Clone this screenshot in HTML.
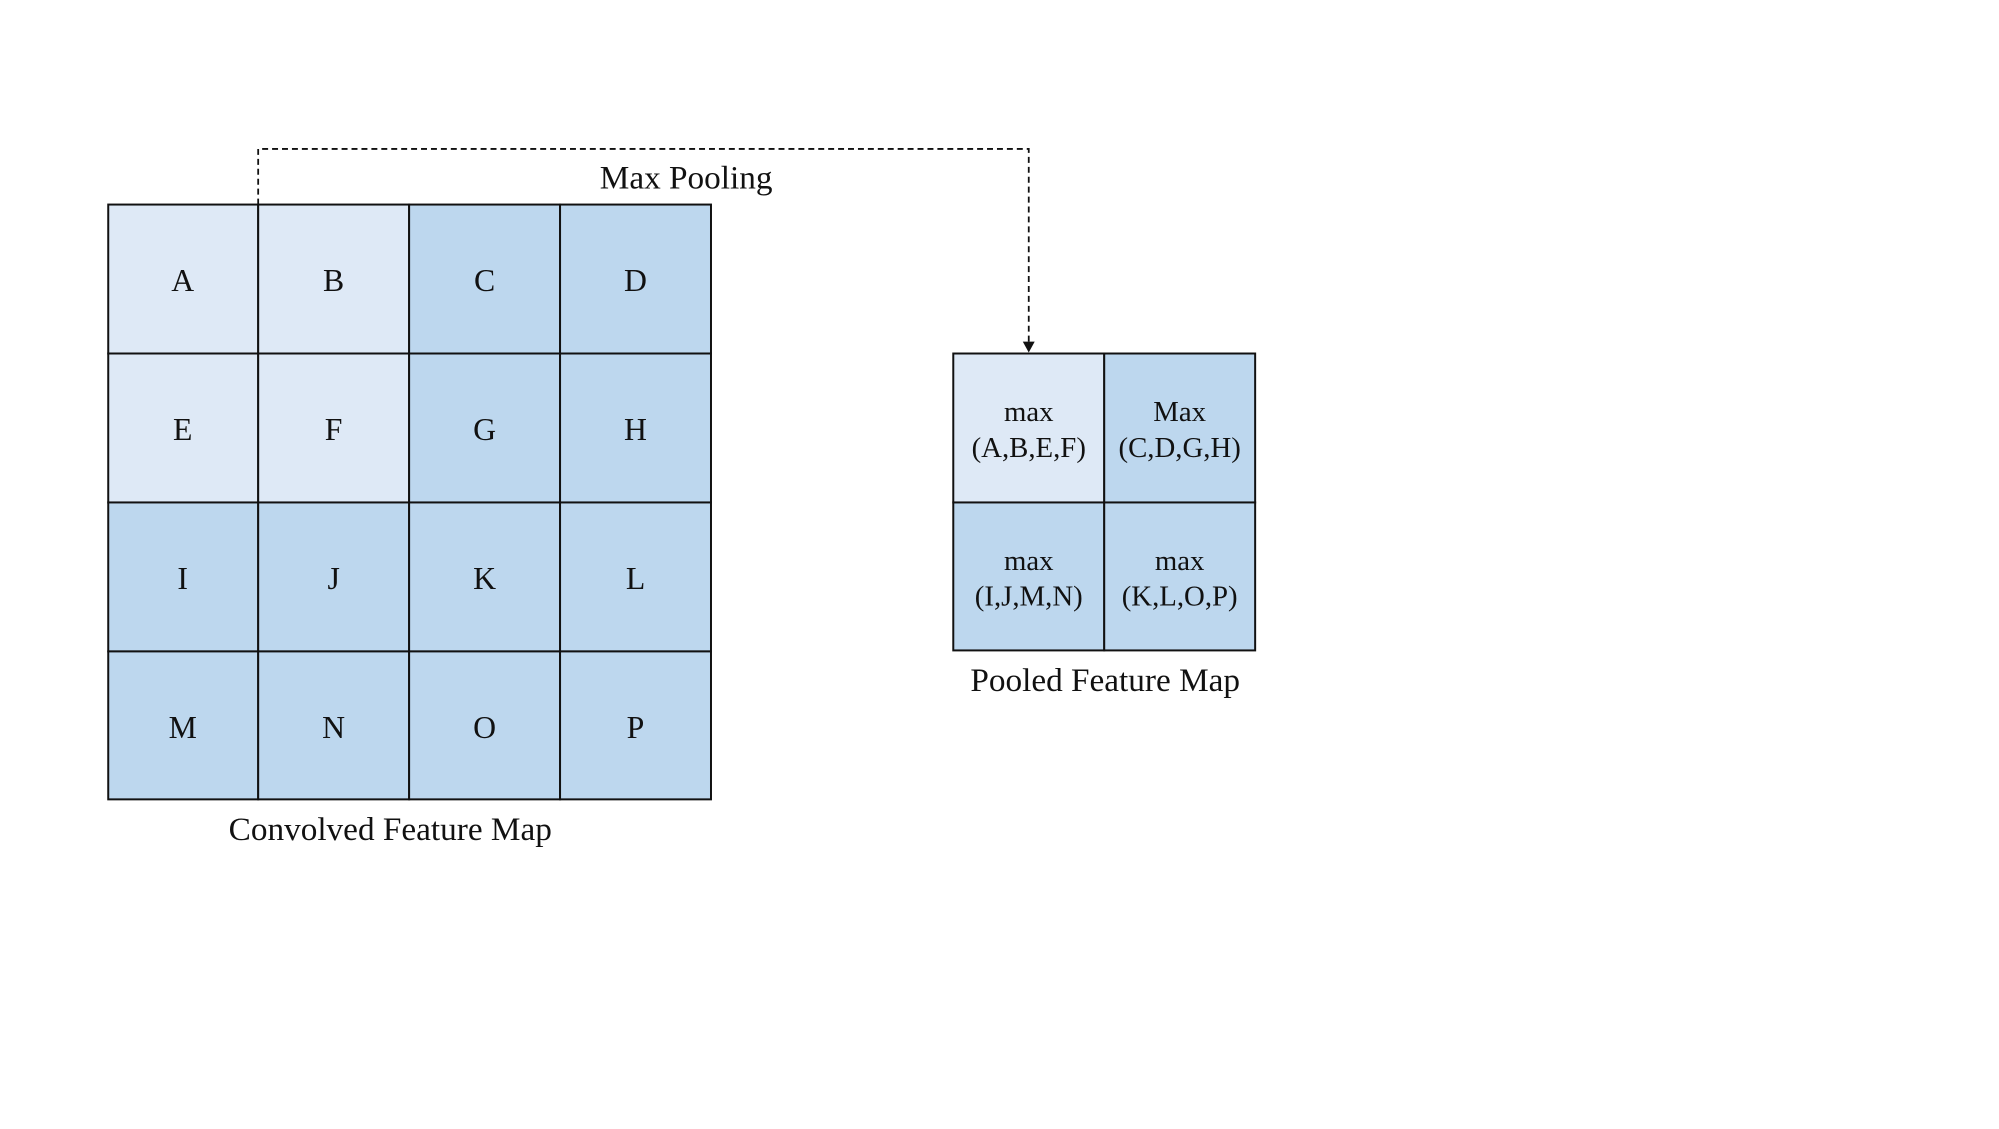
<!DOCTYPE html>
<html><head><meta charset="utf-8"><style>
body{margin:0;background:#fff;}
svg text{font-family:"Liberation Serif",serif;fill:#111;}
</style></head><body>
<svg width="1999" height="1124" xmlns="http://www.w3.org/2000/svg">
<g transform="scale(0.993)">
<g stroke="#111" stroke-width="2">
<rect x="109" y="206" width="151" height="150" fill="#dee9f6"/>
<rect x="260" y="206" width="152" height="150" fill="#dee9f6"/>
<rect x="412" y="206" width="152" height="150" fill="#bdd7ee"/>
<rect x="564" y="206" width="152" height="150" fill="#bdd7ee"/>
<rect x="109" y="356" width="151" height="150" fill="#dee9f6"/>
<rect x="260" y="356" width="152" height="150" fill="#dee9f6"/>
<rect x="412" y="356" width="152" height="150" fill="#bdd7ee"/>
<rect x="564" y="356" width="152" height="150" fill="#bdd7ee"/>
<rect x="109" y="506" width="151" height="150" fill="#bdd7ee"/>
<rect x="260" y="506" width="152" height="150" fill="#bdd7ee"/>
<rect x="412" y="506" width="152" height="150" fill="#bdd7ee"/>
<rect x="564" y="506" width="152" height="150" fill="#bdd7ee"/>
<rect x="109" y="656" width="151" height="149" fill="#bdd7ee"/>
<rect x="260" y="656" width="152" height="149" fill="#bdd7ee"/>
<rect x="412" y="656" width="152" height="149" fill="#bdd7ee"/>
<rect x="564" y="656" width="152" height="149" fill="#bdd7ee"/>
<rect x="960" y="356" width="152" height="150" fill="#dee9f6"/>
<rect x="1112" y="356" width="152" height="150" fill="#bdd7ee"/>
<rect x="960" y="506" width="152" height="149" fill="#bdd7ee"/>
<rect x="1112" y="506" width="152" height="149" fill="#bdd7ee"/>
</g>
<path d="M260 206 V150 H1036 V346" fill="none" stroke="#111" stroke-width="1.8" stroke-dasharray="6,4"/>
<polygon points="1030,344 1042,344 1036,355" fill="#111"/>
<g font-size="32" text-anchor="middle">
<text x="184" y="293">A</text><text x="336" y="293">B</text><text x="488" y="293">C</text><text x="640" y="293">D</text>
<text x="184" y="443">E</text><text x="336" y="443">F</text><text x="488" y="443">G</text><text x="640" y="443">H</text>
<text x="184" y="593">I</text><text x="336" y="593">J</text><text x="488" y="593">K</text><text x="640" y="593">L</text>
<text x="184" y="743">M</text><text x="336" y="743">N</text><text x="488" y="743">O</text><text x="640" y="743">P</text>
</g>
<g font-size="33.5" text-anchor="middle">
<text x="691" y="190">Max Pooling</text>
<text x="393" y="846">Convolved Feature Map</text>
<text x="1113" y="696">Pooled Feature Map</text>
</g>
<g font-size="29" text-anchor="middle">
<text x="1036" y="424">max</text><text x="1036" y="460">(A,B,E,F)</text>
<text x="1188" y="424">Max</text><text x="1188" y="460">(C,D,G,H)</text>
<text x="1036" y="574">max</text><text x="1036" y="610">(I,J,M,N)</text>
<text x="1188" y="574">max</text><text x="1188" y="610">(K,L,O,P)</text>
</g>
</g>
</svg>
</body></html>
